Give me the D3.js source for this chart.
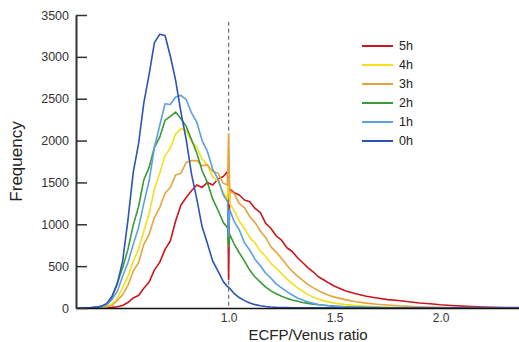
<!DOCTYPE html>
<html>
<head>
<meta charset="utf-8">
<script src="https://cdn.jsdelivr.net/npm/d3@7"></script>
<style>
  body { margin: 0; background: #fff; }
  svg { display: block; font-family: "Liberation Sans", Arial, sans-serif; }
</style>
</head>
<body>
<div id="chart"></div>
<script>
// ECFP/Venus ratio bins (x)
const ratio = [
  0.28, 0.325, 0.35, 0.375, 0.4, 0.425, 0.45, 0.475, 0.5, 0.525,
  0.55, 0.575, 0.6, 0.625, 0.65, 0.675, 0.7, 0.725, 0.75, 0.775,
  0.8, 0.825, 0.85, 0.875, 0.9, 0.925, 0.95, 0.975, 0.995, 1.0,
  1.005, 1.025, 1.05, 1.075, 1.1, 1.125, 1.15, 1.175, 1.2, 1.225,
  1.25, 1.275, 1.3, 1.325, 1.35, 1.375, 1.4, 1.425, 1.45, 1.475,
  1.5, 1.55, 1.6, 1.65, 1.7, 1.75, 1.8, 1.85, 1.9, 1.95,
  2.0, 2.05, 2.1, 2.15, 2.2, 2.25, 2.3, 2.37
];

// frequencies per time point
const h0 = [
  0, 2, 5, 10, 22, 55, 140, 290, 560, 1050,
  1620, 1960, 2450, 2790, 3170, 3270, 3255, 3010, 2720, 2340,
  2010, 1600, 1300, 970, 770, 560, 440, 315, 255, 245,
  235, 175, 125, 88, 60, 40, 27, 18, 12, 8,
  6, 4, 3, 2, 2, 1, 1, 1, 1, 1,
  1, 0, 0, 0, 0, 0, 0, 0, 0, 0,
  0, 0, 0, 0, 0, 0, 0, 0
];
const h1 = [
  0, 2, 3, 8, 18, 40, 100, 200, 380, 540,
  760, 960, 1250, 1520, 1920, 2180, 2440, 2430, 2520, 2540,
  2490, 2330, 2220, 2000, 1870, 1660, 1540, 1350, 1270, 850,
  1180, 1040, 935, 780, 690, 580, 505, 415, 355, 285,
  240, 195, 155, 120, 95, 72, 55, 42, 32, 26,
  20, 12, 8, 6, 4, 3, 2, 2, 1, 1,
  1, 0, 0, 0, 0, 0, 0, 0
];
const h2 = [
  0, 2, 3, 8, 18, 40, 130, 300, 480, 700,
  990, 1210, 1530, 1680, 1920, 2040, 2240, 2290, 2340, 2260,
  2170, 2010, 1850, 1640, 1500, 1300, 1170, 1020, 960, 730,
  880, 770, 660, 560, 450, 370, 310, 250, 205, 170,
  140, 115, 95, 80, 66, 55, 45, 38, 32, 27,
  22, 15, 10, 7, 5, 3, 2, 1, 1, 1,
  0, 0, 0, 0, 0, 0, 0, 0
];
const h3 = [
  0, 1, 1, 3, 6, 12, 30, 90, 160, 270,
  440, 540, 760, 880, 1080, 1200, 1370, 1440, 1590, 1610,
  1740, 1760, 1760, 1700, 1710, 1630, 1610, 1490, 1470, 2080,
  1400, 1370, 1250, 1200, 1090, 1020, 920, 840, 730, 665,
  590, 510, 440, 380, 330, 280, 240, 205, 175, 150,
  130, 100, 75, 58, 45, 35, 26, 20, 15, 11,
  8, 6, 5, 4, 3, 2, 2, 1
];
const h4 = [
  0, 1, 2, 5, 10, 22, 50, 120, 240, 380,
  560, 700, 920, 1130, 1420, 1610, 1820, 1910, 2080, 2140,
  2120, 1990, 1920, 1780, 1710, 1570, 1510, 1380, 1300, 1900,
  1250, 1170, 1040, 950, 840, 775, 680, 615, 530, 475,
  410, 345, 290, 240, 200, 160, 130, 105, 85, 70,
  58, 40, 28, 20, 14, 11, 8, 6, 4, 3,
  2, 2, 1, 1, 1, 0, 0, 0
];
const h5 = [
  0, 0, 1, 1, 2, 4, 8, 15, 30, 65,
  120, 150, 235, 310, 455, 545, 700, 800, 1040, 1230,
  1320, 1400, 1470, 1440, 1500, 1470, 1540, 1570, 1630, 340,
  1420, 1380, 1350, 1290, 1270, 1190, 1140, 1010, 950, 860,
  810, 720, 675, 600, 540, 480, 430, 370, 335, 295,
  260, 205, 170, 140, 120, 100, 90, 75, 60, 50,
  38, 30, 22, 16, 12, 9, 6, 4
];

const legendLabels = ['5h', '4h', '3h', '2h', '1h', '0h'];
const legendColors = ['#c8171e', '#f5df1c', '#e6a43c', '#3a9a35', '#5ba0e0', '#2c53b5'];
const seriesValues = [h5, h4, h3, h2, h1, h0];

const yTicks = [0, 500, 1000, 1500, 2000, 2500, 3000, 3500];
const xTicks = [1.0, 1.5, 2.0];
const refRatio = 1.0;

const width = 519;
const height = 342;
const margin = { top: 15, right: 0, bottom: 34, left: 76 };

const svg = d3
  .select('#chart')
  .append('svg')
  .attr('width', width)
  .attr('height', height);

const x = d3
  .scaleLinear()
  .domain([0.28, 2.37])
  .range([margin.left, width - margin.right]);

const y = d3
  .scaleLinear()
  .domain([0, 3500])
  .range([height - margin.bottom, margin.top]);

// dashed reference line at ratio 1.0
svg
  .append('line')
  .attr('x1', x(refRatio))
  .attr('x2', x(refRatio))
  .attr('y1', y(3420))
  .attr('y2', y(0))
  .attr('stroke', '#777')
  .attr('stroke-width', 1.3)
  .attr('stroke-dasharray', '4,3');

// curves: 5h drawn first, 0h on top
const line = d3
  .line()
  .x((d) => x(d[0]))
  .y((d) => y(d[1]));

seriesValues.forEach((vals, i) => {
  svg
    .append('path')
    .datum(ratio.map((r, j) => [r, vals[j]]))
    .attr('fill', 'none')
    .attr('stroke', legendColors[i])
    .attr('stroke-width', 1.6)
    .attr('stroke-linejoin', 'round')
    .attr('d', line);
});

// x axis
const xAxis = svg
  .append('g')
  .attr('transform', `translate(0,${y(0)})`)
  .call(
    d3.axisBottom(x)
      .tickValues(xTicks)
      .tickFormat(d3.format('.1f'))
      .tickSize(0)
      .tickSizeOuter(0)
      .tickPadding(5)
  );
xAxis.select('.domain').attr('stroke', '#111').attr('stroke-width', 1.5);
xAxis.selectAll('text').attr('font-size', 12).attr('fill', '#333');

// y axis, ticks pointing inward
const yAxis = svg
  .append('g')
  .attr('transform', `translate(${margin.left},0)`)
  .call(
    d3.axisLeft(y)
      .tickValues(yTicks)
      .tickFormat(d3.format('d'))
      .tickSize(-11)
      .tickSizeOuter(0)
      .tickPadding(7)
  );
yAxis.select('.domain').attr('stroke', '#333').attr('stroke-width', 2);
yAxis.selectAll('.tick line').attr('stroke', '#333').attr('stroke-width', 1.5);
yAxis.selectAll('text').attr('font-size', 12.5).attr('fill', '#333');

// axis titles
svg
  .append('text')
  .attr('transform', `translate(22,${(y(0) + y(3500)) / 2}) rotate(-90)`)
  .attr('text-anchor', 'middle')
  .attr('font-size', 17)
  .attr('fill', '#222')
  .text('Frequency');

svg
  .append('text')
  .attr('x', 308)
  .attr('y', 340)
  .attr('text-anchor', 'middle')
  .attr('font-size', 15)
  .attr('fill', '#222')
  .text('ECFP/Venus ratio');

// legend
const legend = svg
  .selectAll('.legend')
  .data(legendLabels)
  .enter()
  .append('g')
  .attr('class', 'legend')
  .attr('transform', (d, i) => `translate(362,${46 + i * 19})`);

legend
  .append('line')
  .attr('x1', 0)
  .attr('x2', 31)
  .attr('stroke', (d, i) => legendColors[i])
  .attr('stroke-width', 2);

legend
  .append('text')
  .attr('x', 37)
  .attr('dy', '0.35em')
  .attr('font-size', 12.5)
  .attr('fill', '#222')
  .text((d) => d);
</script>
</body>
</html>
